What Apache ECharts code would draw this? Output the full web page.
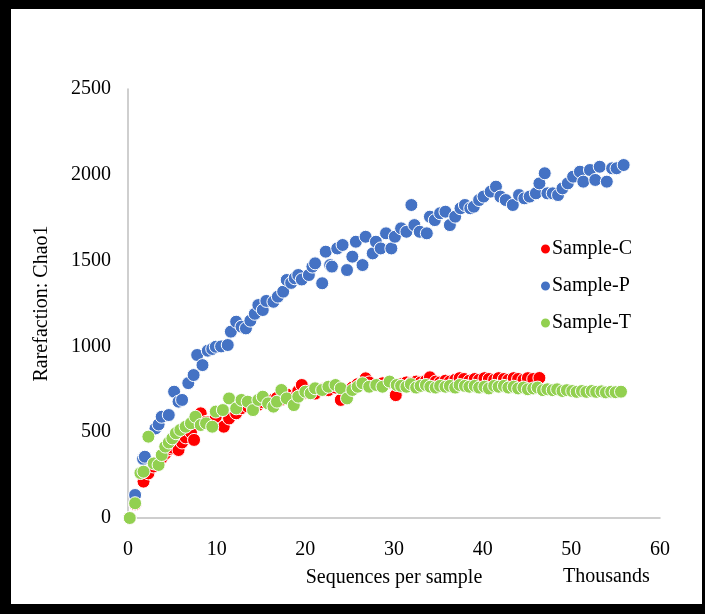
<!DOCTYPE html>
<html><head><meta charset="utf-8">
<script src="https://cdn.jsdelivr.net/npm/echarts@6/dist/echarts.min.js"></script>
<style>
html,body{margin:0;padding:0;background:#fff;}
#c{width:705px;height:614px;position:absolute;left:0;top:0;}
#frame{position:absolute;left:0;top:0;width:705px;height:614px;box-sizing:border-box;border-left:11px solid #000;border-top:9px solid #000;border-bottom:10px solid #000;border-right:3px solid #000;pointer-events:none;}
</style></head>
<body>
<div id="c"></div>
<div id="frame"></div>
<script>
const seriesNames = ['Sample-C','Sample-P','Sample-T'];
const xTicks = [0,10,20,30,40,50,60];
const yTicks = [0,500,1000,1500,2000,2500];

const sampleC = [[0.2,0],[0.8,80],[1.75,212],[2.3,260],[2.9,300],[3.45,330],[3.8,350],[4.2,375],[4.6,400],[5.0,410],[5.7,396],[6.1,440],[6.5,470],[7.1,500],[7.45,455],[8.2,610],[8.8,560],[9.5,540],[9.9,590],[10.8,532],[11.4,580],[12.2,610],[12.8,640],[13.5,650],[14.1,640],[14.7,660],[15.2,675],[15.8,680],[16.4,690],[16.8,700],[17.3,690],[17.9,720],[18.7,700],[19.2,740],[19.6,775],[20.0,730],[20.6,740],[21.1,725],[21.9,750],[22.6,745],[23.4,760],[24.0,688],[24.7,740],[25.3,760],[25.9,780],[26.45,790],[26.8,814],[27.2,790],[28.0,775],[28.7,785],[29.5,790],[30.2,716],[30.8,780],[31.4,790],[31.9,785],[32.5,795],[33.0,790],[33.6,800],[34.05,820],[34.7,795],[35.2,790],[35.8,800],[36.3,795],[36.9,805],[37.4,815],[37.9,810],[38.5,800],[39.1,810],[39.6,805],[40.2,815],[40.7,810],[41.3,805],[41.8,815],[42.4,810],[42.9,805],[43.5,815],[44.0,810],[44.6,805],[45.1,815],[45.7,810],[46.4,816]];

const sampleP = [[0.8,134],[1.7,345],[1.9,357],[3.1,522],[3.45,545],[3.8,590],[4.6,600],[5.2,736],[5.7,678],[6.1,688],[6.8,786],[7.4,833],[7.8,950],[8.4,891],[9.0,975],[9.5,985],[9.9,998],[10.5,1000],[11.25,1008],[11.6,1086],[12.2,1144],[12.8,1115],[13.3,1105],[13.8,1150],[14.3,1190],[14.7,1241],[15.2,1212],[15.6,1265],[16.4,1260],[16.9,1290],[17.5,1319],[17.9,1387],[18.4,1370],[18.8,1397],[19.2,1416],[19.6,1390],[20.4,1416],[20.8,1465],[21.1,1484],[21.9,1368],[22.3,1552],[22.8,1474],[23.0,1465],[23.6,1571],[24.2,1591],[24.7,1445],[25.3,1523],[25.7,1610],[26.45,1474],[26.8,1639],[27.6,1542],[27.96,1610],[28.5,1571],[29.1,1659],[29.7,1571],[30.1,1639],[30.8,1688],[31.4,1668],[31.96,1824],[32.3,1707],[32.9,1668],[33.7,1659],[34.05,1756],[34.6,1736],[35.2,1776],[35.8,1785],[36.3,1707],[36.9,1756],[37.5,1805],[38.0,1824],[38.6,1805],[39.0,1814],[39.6,1853],[40.1,1873],[40.9,1902],[41.5,1931],[42.0,1873],[42.6,1853],[43.4,1824],[44.1,1882],[44.7,1863],[45.3,1873],[46.0,1892],[46.4,1950],[47.0,2009],[47.3,1892],[47.9,1892],[48.5,1882],[49.0,1921],[49.6,1950],[50.2,1989],[50.97,2018],[51.35,1960],[52.1,2028],[52.7,1970],[53.2,2047],[54.0,1960],[54.6,2038],[55.1,2038],[55.9,2057]];

const sampleT = [[0.2,0],[0.8,86],[1.4,262],[1.75,270],[2.3,474],[2.9,318],[3.45,309],[3.8,367],[4.2,416],[4.6,440],[5.0,464],[5.4,494],[5.9,513],[6.5,532],[7.1,552],[7.6,590],[8.2,542],[8.8,552],[9.5,532],[9.9,620],[10.7,629],[11.4,697],[12.2,639],[12.8,688],[13.5,678],[14.1,629],[14.7,688],[15.2,707],[15.8,668],[16.4,649],[16.8,678],[17.3,746],[17.9,697],[18.7,658],[19.2,707],[20.0,736],[20.6,727],[21.1,756],[21.9,746],[22.6,765],[23.4,775],[24.0,756],[24.7,697],[25.3,746],[25.9,765],[26.45,785],[27.2,765],[28.0,775],[28.7,765],[29.5,795],[30.3,775],[30.8,770],[31.4,765],[31.9,780],[32.5,760],[33.0,770],[33.6,775],[34.1,765],[34.7,760],[35.2,770],[35.8,765],[36.3,770],[36.9,760],[37.4,775],[38.0,770],[38.5,765],[39.1,770],[39.6,760],[40.2,765],[40.7,755],[41.3,770],[41.8,765],[42.4,770],[42.9,760],[43.5,765],[44.0,755],[44.6,760],[45.1,750],[45.7,755],[46.2,760],[46.8,745],[47.3,750],[47.9,745],[48.4,750],[49.0,740],[49.5,745],[50.1,740],[50.6,735],[51.2,740],[51.7,735],[52.3,740],[52.8,735],[53.4,738],[53.9,732],[54.5,736],[55.0,733],[55.6,736]];

const colors = ['#FF0000','#4472C4','#92D050'];
const font = '"Liberation Serif","Times New Roman",serif';
const fs = 20;

const chart = echarts.init(document.getElementById('c'), null, {renderer:'canvas'});
const dataSets = [sampleC, sampleP, sampleT];
chart.setOption({
  animation:false,
  backgroundColor:'#fff',
  grid:{left:128,right:45,top:89,bottom:96},
  legend:{
    orient:'vertical', left:534, top:234,
    itemWidth:11, itemHeight:11, itemGap:17, icon:'circle',
    textStyle:{fontFamily:font,fontSize:fs,color:'#000',padding:[0,0,0,-4]},
    data:seriesNames
  },
  xAxis:{
    type:'value', min:0, max:60, interval:10,
    name:'Sequences per sample', nameLocation:'middle', nameGap:50,
    nameTextStyle:{fontFamily:font,fontSize:fs,color:'#000'},
    axisLine:{show:true,lineStyle:{color:'#bfbfbf',width:1.5}},
    axisTick:{show:false}, splitLine:{show:false},
    axisLabel:{fontFamily:font,fontSize:fs,color:'#000',margin:22,
      formatter:v=>xTicks.includes(v)?String(v):''}
  },
  yAxis:{
    type:'value', min:0, max:2500, interval:500,
    name:'Rarefaction: Chao1', nameLocation:'middle', nameGap:76,
    nameTextStyle:{fontFamily:font,fontSize:fs,color:'#000'},
    axisLine:{show:true,lineStyle:{color:'#bfbfbf',width:1.5}},
    axisTick:{show:false}, splitLine:{show:false},
    axisLabel:{fontFamily:font,fontSize:fs,color:'#000',margin:17,
      formatter:v=>yTicks.includes(v)?String(v):''}
  },
  graphic:[{type:'text',left:563,top:567,style:{text:'Thousands',font:fs+'px '+font,fill:'#000'}}],
  series: dataSets.map((d,i)=>({
    name:seriesNames[i], type:'scatter', data:d, symbol:'circle', symbolSize:13,
    itemStyle:{color:colors[i],borderColor:'#fff',borderWidth:1,opacity:1}
  }))
});
</script>
</body></html>
